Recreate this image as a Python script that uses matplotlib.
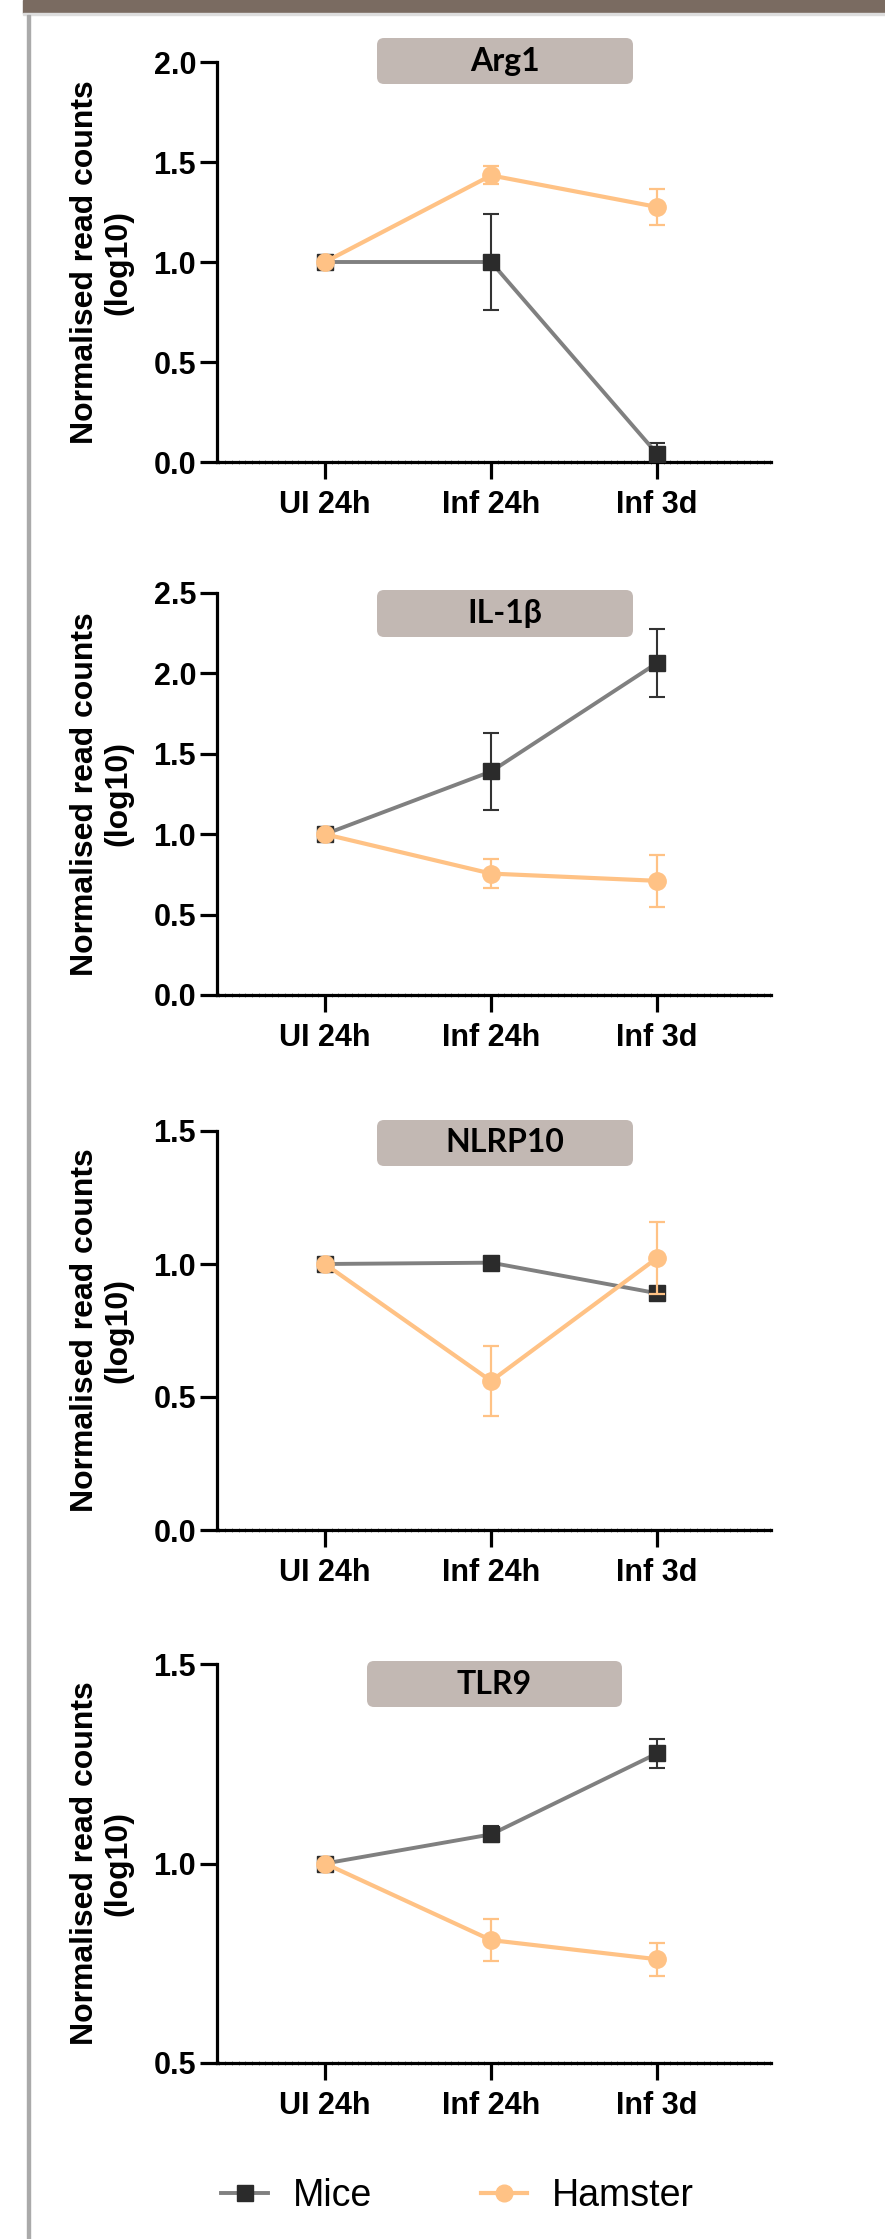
import matplotlib
matplotlib.use("Agg")
import matplotlib.pyplot as plt
from matplotlib.patches import FancyBboxPatch, Rectangle
from matplotlib.lines import Line2D
from matplotlib.ticker import MultipleLocator, FormatStrFormatter
from matplotlib.font_manager import FontProperties

# data (log10 normalised read counts, mean and error)
groups = ["UI 24h", "Inf 24h", "Inf 3d"]
genes = ["Arg1", "IL-1β", "NLRP10", "TLR9"]

mice_mean = [[1.0, 1.0, 0.04], [1.0, 1.39, 2.065], [1.0, 1.005, 0.89], [1.0, 1.073, 1.276]]
mice_err = [[0.0, 0.24, 0.055], [0.0, 0.24, 0.21], [0.0, 0.0, 0.02], [0.0, 0.02, 0.037]]
hamster_mean = [[1.0, 1.433, 1.275], [1.0, 0.755, 0.71], [1.0, 0.56, 1.023], [1.0, 0.808, 0.76]]
hamster_err = [[0.0, 0.045, 0.09], [0.0, 0.09, 0.16], [0.0, 0.133, 0.135], [0.0, 0.053, 0.041]]

y_limits = [(0, 2.0), (0, 2.5), (0, 1.5), (0.5, 1.5)]

MICE_LINE = "#808080"
MICE_MARK = "#2b2b2b"
HAM = "#ffc285"
BOX = "#c2b8b3"
BAR = "#7a6b61"

W, H = 885, 2239
fig = plt.figure(figsize=(W / 100, H / 100), dpi=100)

# page decoration: top band and left rule
fig.patches.append(Rectangle((23 / W, 1 - 13 / H), 1, 13 / H, transform=fig.transFigure,
                             color=BAR, zorder=0))
fig.patches.append(Rectangle((23 / W, 1 - 15 / H), 1, 2 / H, transform=fig.transFigure,
                             color="#dddddd", zorder=0))
fig.patches.append(Rectangle((27 / W, 0), 3 / W, 1 - 15 / H, transform=fig.transFigure,
                             color="#aaaaaa", zorder=0))

# axes placement in pixels: (top, bottom)
ax_pix = [(62, 462), (593, 995), (1131, 1530), (1664, 2063)]
box_x = [(377, 633), (377, 633), (377, 633), (367, 622)]
box_y = [(38, 84), (590, 637), (1120, 1166), (1661, 1707)]
left, right = 217, 771

tick_font = FontProperties(family="Liberation Sans", weight="bold", size=22)

for i, gene in enumerate(genes):
    top, bot = ax_pix[i]
    ax = fig.add_axes([left / W, 1 - bot / H, (right - left) / W, (bot - top) / H])
    x = range(len(groups))

    ax.errorbar(x, mice_mean[i], yerr=mice_err[i], color=MICE_LINE, lw=2.8,
                marker="s", ms=12, mfc=MICE_MARK, mec=MICE_MARK,
                ecolor="#333333", elinewidth=1.5, capsize=5.5, capthick=1.5, zorder=3)
    ax.errorbar(x, hamster_mean[i], yerr=hamster_err[i], color=HAM, lw=3.0,
                marker="o", ms=12.5, mfc=HAM, mec=HAM,
                ecolor=HAM, elinewidth=1.6, capsize=5.5, capthick=1.6, zorder=4)

    ax.set_xlim(-0.65, 2.685)
    ax.set_ylim(*y_limits[i])
    ax.yaxis.set_major_locator(MultipleLocator(0.5))
    ax.yaxis.set_major_formatter(FormatStrFormatter("%.1f"))
    ax.set_xticks(list(x))
    ax.set_xticklabels(groups)
    ax.xaxis.set_minor_locator(MultipleLocator(0.04))

    for s in ["top", "right"]:
        ax.spines[s].set_visible(False)
    for s in ["left", "bottom"]:
        ax.spines[s].set_linewidth(2.3)

    ax.tick_params(axis="x", which="major", length=12, width=2.3, pad=8)
    ax.tick_params(axis="x", which="minor", length=3, width=0.6, direction="inout", color="#777777")
    ax.tick_params(axis="y", which="major", length=12, width=2.3, pad=3)
    for lab in ax.get_xticklabels() + ax.get_yticklabels():
        lab.set_fontproperties(tick_font)

    ax.set_ylabel("Normalised read counts\n(log10)", family="Liberation Sans",
                  weight="bold", size=23, linespacing=1.15)
    ax.yaxis.set_label_coords((133 - left) / (right - left), 0.5)

    # rounded title box
    bx0, bx1 = box_x[i]
    by0, by1 = box_y[i]
    fx0, fx1 = bx0 / W, bx1 / W
    fy0, fy1 = 1 - by1 / H, 1 - by0 / H
    r = 7
    box = FancyBboxPatch((fx0 + r / W, fy0 + r / H), fx1 - fx0 - 2 * r / W, fy1 - fy0 - 2 * r / H,
                         boxstyle="round,pad=%f,rounding_size=%f" % (r / W, r / W),
                         mutation_aspect=W / H, transform=fig.transFigure,
                         fc=BOX, ec="none", zorder=1)
    fig.patches.append(box)
    fig.text((fx0 + fx1) / 2, (fy0 + fy1) / 2, gene, family="Lato", weight="bold",
             size=23, ha="center", va="center", zorder=2)

handles = [
    Line2D([], [], color=MICE_LINE, lw=2.8, marker="s", ms=11.5, mfc=MICE_MARK, mec=MICE_MARK),
    Line2D([], [], color=HAM, lw=3.0, marker="o", ms=12, mfc=HAM, mec=HAM),
]
fig.legend(handles, ["Mice", "Hamster"], loc="center", bbox_to_anchor=(0.517, 1 - 2196 / H),
           ncol=2, frameon=False, handlelength=1.25, columnspacing=2.9, handletextpad=0.65,
           prop=dict(family="Liberation Sans", size=27))

fig.savefig("out.png", dpi=100)
